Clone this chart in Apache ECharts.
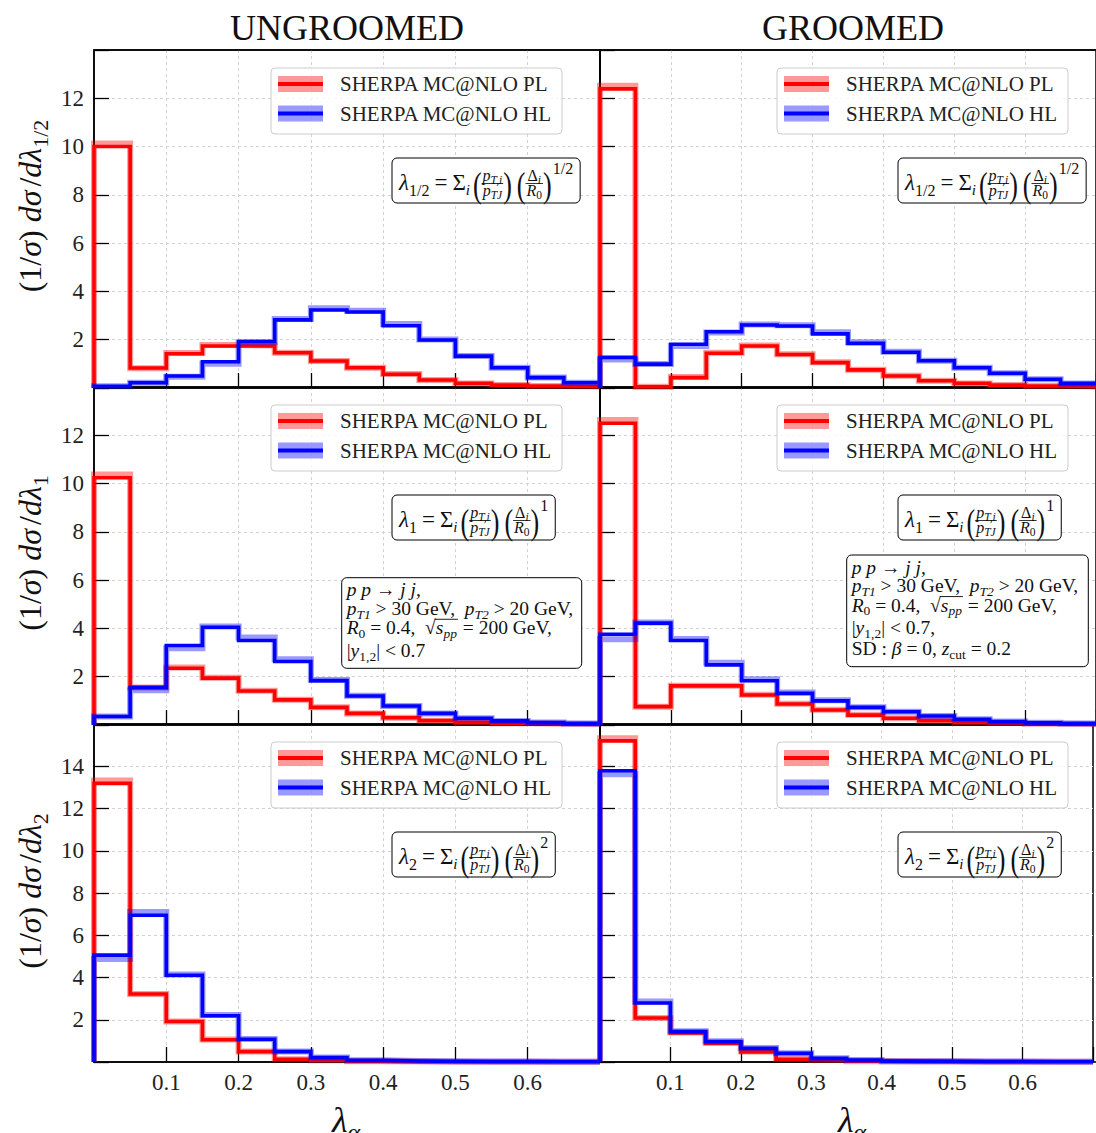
<!DOCTYPE html>
<html>
<head>
<meta charset="utf-8">
<script src="https://cdn.jsdelivr.net/npm/echarts@6/dist/echarts.min.js"></script>
<style>
  html, body { margin: 0; padding: 0; background: #ffffff; }
  #chart { width: 1096px; height: 1133px; }
</style>
</head>
<body>
<div id="chart"></div>
<script>
// ---- bins and ticks ----
const binEdges = [0, 0.05, 0.1, 0.15, 0.2, 0.25, 0.3, 0.35, 0.4, 0.45, 0.5, 0.55, 0.6, 0.65, 0.7];
const xTickLabels = [0.1, 0.2, 0.3, 0.4, 0.5, 0.6];
const yTickLabelsUpper = [2, 4, 6, 8, 10, 12];
const yTickLabelsLower = [2, 4, 6, 8, 10, 12, 14];
const columnTitles = ['UNGROOMED', 'GROOMED'];
const seriesNames = ['SHERPA MC@NLO PL', 'SHERPA MC@NLO HL'];

// ---- lambda_{1/2} ----
const ungHalfPL     = [10.00, 0.83, 1.42, 1.74, 1.74, 1.46, 1.12, 0.84, 0.57, 0.33, 0.19, 0.12, 0.08, 0.06];
const ungHalfPLBand = [10.13, 0.82, 1.45, 1.78, 1.76, 1.46, 1.12, 0.84, 0.58, 0.33, 0.19, 0.12, 0.08, 0.06];
const ungHalfHL     = [0.07, 0.22, 0.50, 1.09, 1.92, 2.82, 3.23, 3.15, 2.58, 1.99, 1.32, 0.84, 0.43, 0.22];
const ungHalfHLBand = [0.07, 0.22, 0.47, 1.00, 1.90, 2.86, 3.30, 3.20, 2.65, 2.01, 1.33, 0.84, 0.43, 0.22];
const grHalfPL      = [12.39, 0.05, 0.43, 1.44, 1.74, 1.39, 1.05, 0.75, 0.50, 0.30, 0.19, 0.12, 0.08, 0.06];
const grHalfPLBand  = [12.52, 0.05, 0.46, 1.46, 1.76, 1.40, 1.07, 0.76, 0.51, 0.30, 0.19, 0.12, 0.08, 0.06];
const grHalfHL      = [1.27, 0.99, 1.81, 2.33, 2.61, 2.57, 2.24, 1.85, 1.48, 1.13, 0.84, 0.61, 0.36, 0.19];
const grHalfHLBand  = [1.18, 0.99, 1.74, 2.30, 2.63, 2.60, 2.31, 1.90, 1.50, 1.13, 0.84, 0.61, 0.36, 0.19];

// ---- lambda_1 ----
const ungOnePL      = [10.24, 1.55, 2.35, 1.94, 1.41, 1.04, 0.73, 0.48, 0.30, 0.18, 0.11, 0.07, 0.05, 0.04];
const ungOnePLBand  = [10.38, 1.55, 2.38, 1.96, 1.42, 1.05, 0.74, 0.48, 0.30, 0.18, 0.11, 0.07, 0.05, 0.04];
const ungOneHL      = [0.35, 1.56, 3.29, 4.05, 3.50, 2.63, 1.84, 1.20, 0.79, 0.48, 0.28, 0.17, 0.10, 0.06];
const ungOneHLBand  = [0.35, 1.44, 3.18, 4.08, 3.62, 2.72, 1.86, 1.21, 0.79, 0.48, 0.28, 0.17, 0.10, 0.06];
const grOnePL       = [12.50, 0.76, 1.62, 1.62, 1.24, 0.87, 0.62, 0.41, 0.28, 0.18, 0.11, 0.08, 0.05, 0.04];
const grOnePLBand   = [12.63, 0.76, 1.63, 1.63, 1.25, 0.88, 0.63, 0.42, 0.28, 0.18, 0.11, 0.08, 0.05, 0.04];
const grOneHL       = [3.76, 4.22, 3.50, 2.49, 1.83, 1.31, 1.00, 0.73, 0.55, 0.37, 0.24, 0.14, 0.09, 0.06];
const grOneHLBand   = [3.55, 4.25, 3.56, 2.58, 1.90, 1.35, 1.02, 0.74, 0.55, 0.37, 0.24, 0.14, 0.09, 0.06];

// ---- lambda_2 ----
const ungTwoPL      = [13.19, 3.22, 1.92, 1.05, 0.49, 0.13, 0.08, 0.03, 0.02, 0.01, 0.01, 0.01, 0.01, 0.01];
const ungTwoPLBand  = [13.33, 3.22, 1.92, 1.06, 0.50, 0.13, 0.08, 0.03, 0.02, 0.01, 0.01, 0.01, 0.01, 0.01];
const ungTwoHL      = [5.06, 6.95, 4.11, 2.19, 1.08, 0.49, 0.21, 0.08, 0.05, 0.03, 0.02, 0.02, 0.01, 0.01];
const ungTwoHLBand  = [4.88, 7.10, 4.14, 2.22, 1.09, 0.50, 0.21, 0.08, 0.05, 0.03, 0.02, 0.02, 0.01, 0.01];
const grTwoPL       = [15.20, 2.08, 1.37, 0.89, 0.48, 0.13, 0.10, 0.04, 0.02, 0.02, 0.01, 0.01, 0.01, 0.01];
const grTwoPLBand   = [15.33, 2.08, 1.40, 0.90, 0.50, 0.14, 0.10, 0.04, 0.02, 0.02, 0.01, 0.01, 0.01, 0.01];
const grTwoHL       = [13.79, 2.79, 1.44, 0.97, 0.65, 0.41, 0.17, 0.09, 0.04, 0.03, 0.02, 0.02, 0.01, 0.01];
const grTwoHLBand   = [13.62, 2.86, 1.46, 0.98, 0.66, 0.42, 0.18, 0.09, 0.04, 0.03, 0.02, 0.02, 0.01, 0.01];

// ---- layout ----
const SERIF = "'Liberation Serif', 'DejaVu Serif', serif";
const colLeft = [94, 600];
const rowTop = [50, 387, 724];
const PANEL_W = 506, PANEL_H = 338;
const RED = '#ff0000', BLUE = '#0000ff';
const RED_BAND = 'rgba(255,0,0,0.4)', BLUE_BAND = 'rgba(0,0,255,0.4)';

const panels = [
  { row: 0, col: 0, pl: ungHalfPL, plBand: ungHalfPLBand, hl: ungHalfHL, hlBand: ungHalfHLBand, yMax: 14, yTicks: yTickLabelsUpper, exp: '1/2' },
  { row: 0, col: 1, pl: grHalfPL,  plBand: grHalfPLBand,  hl: grHalfHL,  hlBand: grHalfHLBand,  yMax: 14, yTicks: yTickLabelsUpper, exp: '1/2' },
  { row: 1, col: 0, pl: ungOnePL,  plBand: ungOnePLBand,  hl: ungOneHL,  hlBand: ungOneHLBand,  yMax: 14, yTicks: yTickLabelsUpper, exp: '1' },
  { row: 1, col: 1, pl: grOnePL,   plBand: grOnePLBand,   hl: grOneHL,   hlBand: grOneHLBand,   yMax: 14, yTicks: yTickLabelsUpper, exp: '1' },
  { row: 2, col: 0, pl: ungTwoPL,  plBand: ungTwoPLBand,  hl: ungTwoHL,  hlBand: ungTwoHLBand,  yMax: 16, yTicks: yTickLabelsLower, exp: '2' },
  { row: 2, col: 1, pl: grTwoPL,   plBand: grTwoPLBand,   hl: grTwoHL,   hlBand: grTwoHLBand,   yMax: 16, yTicks: yTickLabelsLower, exp: '2' }
];

// histogram outline: rises from zero at the first edge, then one step per bin
function stepData(vals) {
  const d = [[binEdges[0], 0]];
  vals.forEach((v, i) => d.push([binEdges[i], v]));
  d.push([binEdges[binEdges.length - 1], vals[vals.length - 1]]);
  return d;
}

// ---- small math typesetter built from text pieces ----
const measureCtx = document.createElement('canvas').getContext('2d');
function fontStr(f, s) { return (f === 'i' ? 'italic ' : '') + s + 'px ' + SERIF; }
function textWidth(str, font) { measureCtx.font = font; return measureCtx.measureText(str).width; }
function T(t, f, s, dy) { return { t: t, f: f, s: s, dy: dy || 0 }; }
// tall delimiter, stretched vertically around the math axis
function P(t) { return { t: t, f: 'r', s: 26, dy: 0, sy: 1.4, onAxis: true }; }
const MATH_AXIS = 6;

function typeset(items, x, base, out, z) {
  let cx = x;
  for (const it of items) {
    if (it.sp !== undefined) { cx += it.sp; continue; }
    if (it.frac) {
      const wn = typeset(it.frac.num, 0, 0, [], z);
      const wd = typeset(it.frac.den, 0, 0, [], z);
      const w = Math.max(wn, wd) + 2;
      const axis = base - MATH_AXIS;
      typeset(it.frac.num, cx + (w - wn) / 2, axis - 3.5, out, z);
      typeset(it.frac.den, cx + (w - wd) / 2, axis + 11.5, out, z);
      out.push({ type: 'line', z: z, silent: true,
        shape: { x1: cx, y1: axis, x2: cx + w, y2: axis },
        style: { stroke: '#000', lineWidth: 0.8 } });
      cx += w; continue;
    }
    if (it.sqrt) {
      const rf = fontStr('r', it.s);
      const rw = textWidth('√', rf);
      out.push(textEl('√', cx, base - 0.3 * it.s, rf, z, 1));
      const iw = typeset(it.sqrt, cx + rw, base, out, z);
      const top = base - 0.74 * it.s;
      out.push({ type: 'line', z: z, silent: true,
        shape: { x1: cx + rw - 1, y1: top, x2: cx + rw + iw + 1, y2: top },
        style: { stroke: '#000', lineWidth: 0.9 } });
      cx += rw + iw + 1; continue;
    }
    const f = fontStr(it.f, it.s);
    const yMid = it.onAxis ? base - MATH_AXIS + 1 : base + it.dy - 0.3 * it.s;
    out.push(textEl(it.t, cx, yMid, f, z, it.sy || 1));
    cx += textWidth(it.t, f);
  }
  return cx - x;
}
function textEl(t, x, yMid, font, z, sy) {
  return { type: 'text', z: z, silent: true, x: x, y: yMid, scaleY: sy,
    style: { text: t, x: 0, y: 0, font: font, fill: '#111',
      align: 'left', verticalAlign: 'middle', textAlign: 'left', textVerticalAlign: 'middle' } };
}

function formulaItems(e) {
  return [
    T('λ', 'i', 23), T(e, 'r', 16, 6), { sp: 5 }, T('=', 'r', 23), { sp: 5 },
    T('Σ', 'r', 23), T('i', 'i', 15, 5), { sp: 3 },
    P('('),
    { frac: { num: [T('p', 'i', 16), T('T,i', 'i', 11.5, 3)], den: [T('p', 'i', 16), T('TJ', 'i', 11.5, 3)] } },
    P(')'), { sp: 5 },
    P('('),
    { frac: { num: [T('Δ', 'r', 16), T('i', 'i', 11.5, 3)], den: [T('R', 'i', 16), T('0', 'r', 11.5, 3)] } },
    P(')'), { sp: 1 },
    T(e, 'r', 16, -16.5)
  ];
}

const KS = 19.5, KSUB = 13.5;
const kinLinesCommon = [
  [T('p p', 'i', KS), T(' → ', 'r', KS), T('j j,', 'i', KS)],
  [T('p', 'i', KS), T('T1', 'i', KSUB, 4), T(' > 30 GeV,  ', 'r', KS),
   T('p', 'i', KS), T('T2', 'i', KSUB, 4), T(' > 20 GeV,', 'r', KS)],
  [T('R', 'i', KS), T('0', 'r', KSUB, 4), T(' = 0.4,  ', 'r', KS),
   { sqrt: [T('s', 'i', KS), T('pp', 'i', KSUB, 4)], s: KS }, T(' = 200 GeV,', 'r', KS)]
];
const kinLinesUngroomed = kinLinesCommon.concat([
  [T('|', 'r', KS), T('y', 'i', KS), T('1,2', 'r', KSUB, 4), T('| < 0.7', 'r', KS)]
]);
const kinLinesGroomed = kinLinesCommon.concat([
  [T('|', 'r', KS), T('y', 'i', KS), T('1,2', 'r', KSUB, 4), T('| < 0.7,', 'r', KS)],
  [T('SD : ', 'r', KS), T('β', 'i', KS), T(' = 0, ', 'r', KS), T('z', 'i', KS), T('cut', 'r', KSUB, 4), T(' = 0.2', 'r', KS)]
]);
const kinBaselines = [18, 36.5, 56, 78.5, 99.5];

const yLabelSubs = ['1/2', '1', '2'];
const yLabelCenters = [206, 553, 891];

// ---- graphic overlays ----
const graphics = [];

columnTitles.forEach((t, c) => {
  graphics.push({ type: 'text', z: 50, silent: true,
    style: { text: t, x: colLeft[c] + 253, y: 28, font: '36px ' + SERIF, fill: '#111',
      align: 'center', verticalAlign: 'middle', textAlign: 'center', textVerticalAlign: 'middle' } });
});

yLabelSubs.forEach((sub, r) => {
  const items = [T('(', 'r', 32), T('1', 'r', 32), T('/', 'r', 32), T('σ', 'i', 32), T(')', 'r', 32), { sp: 8 },
    T('d', 'i', 32), T('σ', 'i', 32), { sp: 4 }, T('/', 'r', 32), T('d', 'i', 32), T('λ', 'i', 32), T(sub, 'r', 22, 7)];
  const w = typeset(items, 0, 0, [], 60);
  const kids = [];
  typeset(items, -w / 2, 0, kids, 60);
  graphics.push({ type: 'group', x: 40, y: yLabelCenters[r], rotation: Math.PI / 2, children: kids });
});

colLeft.forEach((cx) => {
  typeset([T('λ', 'i', 36), T('α', 'i', 24, 8)], cx + 238, 1131, graphics, 60);
});

panels.forEach((p) => {
  const gx = colLeft[p.col], gy = rowTop[p.row];
  // legend
  const lx = gx + 177, ly = gy + 18;
  graphics.push({ type: 'rect', z: 40, silent: true,
    shape: { x: lx, y: ly, width: 291, height: 66, r: 4 },
    style: { fill: 'rgba(255,255,255,0.8)', stroke: '#cccccc', lineWidth: 1 } });
  [[RED, RED_BAND, 16], [BLUE, BLUE_BAND, 45.5]].forEach(([c, b, dy], k) => {
    graphics.push({ type: 'rect', z: 41, silent: true,
      shape: { x: lx + 7, y: ly + dy - 8, width: 45, height: 16 }, style: { fill: b } });
    graphics.push({ type: 'line', z: 42, silent: true,
      shape: { x1: lx + 7, y1: ly + dy, x2: lx + 52, y2: ly + dy }, style: { stroke: c, lineWidth: 4 } });
    graphics.push({ type: 'text', z: 42, silent: true,
      style: { text: seriesNames[k], x: lx + 69, y: ly + dy, font: '21px ' + SERIF, fill: '#222',
        align: 'left', verticalAlign: 'middle', textAlign: 'left', textVerticalAlign: 'middle' } });
  });
  // observable definition
  const items = formulaItems(p.exp);
  const fw = typeset(items, 0, 0, [], 46);
  const bx = gx + 298, by = gy + 108;
  graphics.push({ type: 'rect', z: 45, silent: true,
    shape: { x: bx, y: by, width: fw + 14, height: 45, r: 5 },
    style: { fill: '#ffffff', stroke: '#000', lineWidth: 1 } });
  typeset(items, bx + 7, by + 31.5, graphics, 46);
});

// kinematic selections
[[341.7, 577.7, 240, 90.6, kinLinesUngroomed], [846.7, 555, 241.6, 111.7, kinLinesGroomed]].forEach(([x, y, w, h, lines]) => {
  graphics.push({ type: 'rect', z: 45, silent: true,
    shape: { x: x, y: y, width: w, height: h, r: 5 },
    style: { fill: '#ffffff', stroke: '#000', lineWidth: 1 } });
  lines.forEach((ln, i) => typeset(ln, x + 5, y + kinBaselines[i], graphics, 46));
});

// ---- chart option ----
const gridLineStyle = { color: '#d2d2d2', width: 1, type: [3, 3] };
const tickStyle = { show: true, inside: true, length: 15, lineStyle: { color: '#000', width: 1.3 } };
const option = {
  animation: false,
  backgroundColor: '#ffffff',
  grid: panels.map(p => ({
    left: colLeft[p.col], top: rowTop[p.row], width: PANEL_W, height: PANEL_H,
    show: true, borderColor: '#000', borderWidth: 1.5, backgroundColor: 'rgba(0,0,0,0)'
  })),
  xAxis: panels.map((p, i) => ({
    gridIndex: i, type: 'value', min: 0, max: 0.7, interval: 0.1,
    axisLine: { show: false },
    axisTick: tickStyle,
    axisLabel: {
      show: p.row === 2, margin: 9, fontSize: 23, fontFamily: SERIF, color: '#222',
      formatter: v => xTickLabels.some(t => Math.abs(t - v) < 1e-6) ? v.toFixed(1) : ''
    },
    splitLine: { show: true, showMinLine: false, showMaxLine: false, lineStyle: gridLineStyle }
  })),
  yAxis: panels.map((p, i) => ({
    gridIndex: i, type: 'value', min: 0, max: p.yMax, interval: 2,
    axisLine: { show: false },
    axisTick: tickStyle,
    axisLabel: {
      show: p.col === 0, margin: 10, fontSize: 23, fontFamily: SERIF, color: '#222',
      formatter: v => p.yTicks.indexOf(v) >= 0 ? String(v) : ''
    },
    splitLine: { show: true, showMinLine: false, showMaxLine: false, lineStyle: gridLineStyle }
  })),
  series: [],
  graphic: { elements: graphics }
};

// panel frames drawn above the dotted grid lines but below the histograms
panels.forEach((p) => {
  graphics.push({ type: 'rect', z: 1, silent: true,
    shape: { x: colLeft[p.col], y: rowTop[p.row], width: PANEL_W, height: PANEL_H },
    style: { fill: 'none', stroke: '#000', lineWidth: 1.5 } });
});

panels.forEach((p, i) => {
  const mk = (name, vals, color, width) => ({
    name: name, type: 'line', xAxisIndex: i, yAxisIndex: i, step: 'end', z: 3,
    data: stepData(vals), showSymbol: false, symbol: 'none', silent: true,
    lineStyle: { color: color, width: width, cap: 'butt', join: 'miter' }
  });
  option.series.push(mk(seriesNames[0] + ' band', p.plBand, RED_BAND, 6));
  option.series.push(mk(seriesNames[0], p.pl, RED, 3.6));
  option.series.push(mk(seriesNames[1] + ' band', p.hlBand, BLUE_BAND, 6));
  option.series.push(mk(seriesNames[1], p.hl, BLUE, 3.6));
});

const chart = echarts.init(document.getElementById('chart'), null, { renderer: 'svg', width: 1096, height: 1133 });
chart.setOption(option);
</script>
</body>
</html>
